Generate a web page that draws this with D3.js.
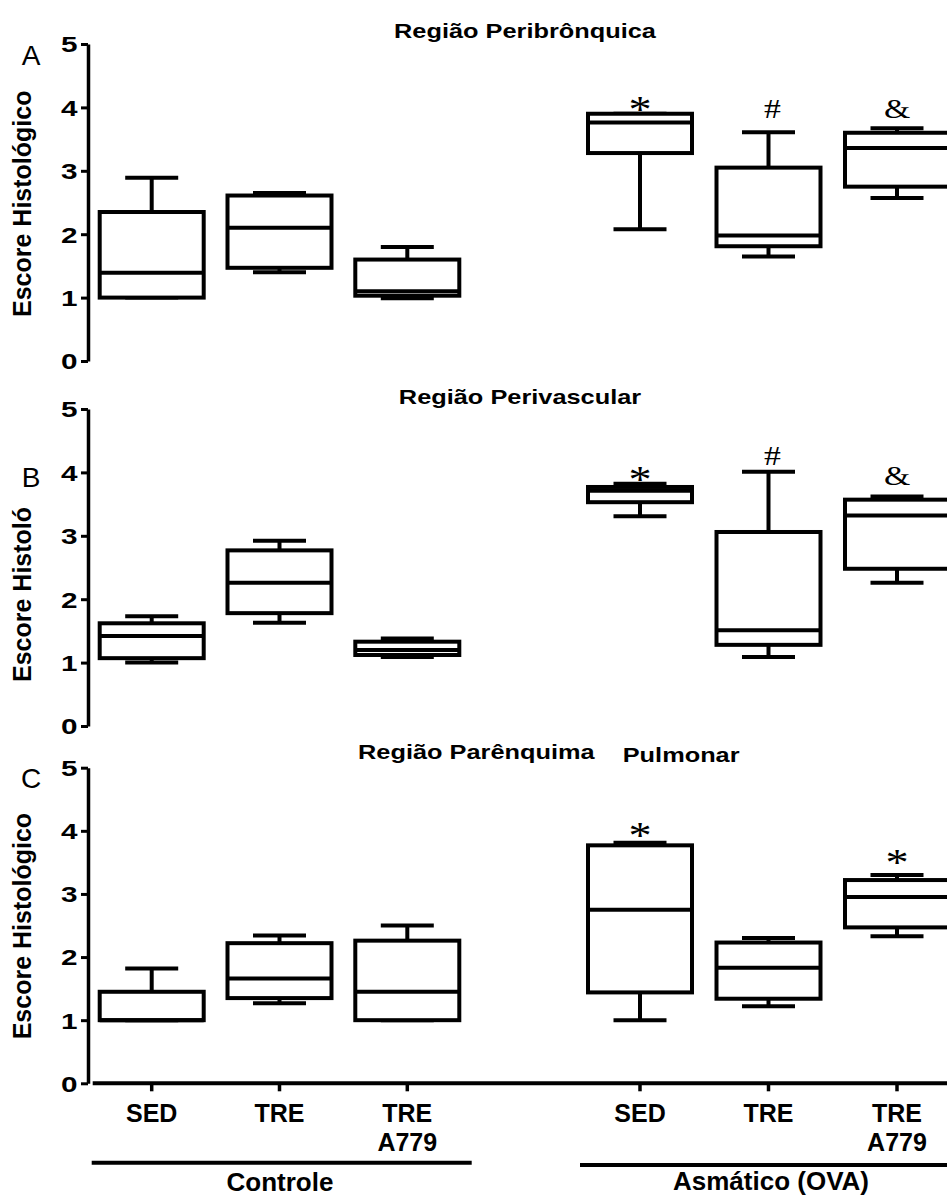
<!DOCTYPE html>
<html>
<head>
<meta charset="utf-8">
<script src="https://cdn.jsdelivr.net/npm/d3@7"></script>
<style>
  html, body { margin: 0; padding: 0; background: #fff; }
  svg { display: block; }
</style>
</head>
<body>
<svg id="chart" width="947" height="1196"></svg>
<script>
// ---------------- data ----------------
const groups = ["Controle", "Asmático (OVA)"];
const categories = ["SED", "TRE", "TRE A779"];
const yTicks = [0, 1, 2, 3, 4, 5];
const panelLetters = ["A", "B", "C"];
const panelTitles = ["Região Peribrônquica", "Região Perivascular", "Região Parênquima"];
const titleExtra = ["", "", "Pulmonar"];
const yLabels = ["Escore Histológico", "Escore Histoló", "Escore Histológico"];

// each row: [min, q1, median, q3, max]; order: Controle SED, TRE, TRE A779, OVA SED, TRE, TRE A779
const peribronquica = [
  [1.00, 1.00, 1.39, 2.35, 2.89],
  [1.40, 1.47, 2.10, 2.61, 2.65],
  [0.99, 1.03, 1.10, 1.60, 1.80],
  [2.08, 3.28, 3.76, 3.90, 3.90],
  [1.65, 1.81, 1.98, 3.05, 3.61],
  [2.57, 2.75, 3.36, 3.60, 3.67]
];
const perivascular = [
  [1.00, 1.07, 1.42, 1.62, 1.73],
  [1.63, 1.78, 2.26, 2.77, 2.92],
  [1.09, 1.12, 1.20, 1.33, 1.38],
  [3.31, 3.53, 3.71, 3.77, 3.82],
  [1.09, 1.28, 1.51, 3.06, 4.01],
  [2.26, 2.48, 3.32, 3.57, 3.62]
];
const parenquima = [
  [1.00, 1.00, 1.00, 1.45, 1.82],
  [1.27, 1.35, 1.66, 2.22, 2.34],
  [1.00, 1.00, 1.45, 2.26, 2.50],
  [1.00, 1.44, 2.75, 3.77, 3.81],
  [1.22, 1.34, 1.83, 2.23, 2.30],
  [2.33, 2.47, 2.95, 3.22, 3.30]
];

// significance marks and the score level where each mark sits
const periMarks = ["", "", "", "*", "#", "&"];
const periMarkLevels = [null, null, null, 4.05, 3.97, 3.98];
const periVMarks = ["", "", "", "*", "#", "&"];
const periVMarkLevels = [null, null, null, 3.97, 4.26, 3.94];
const parMarks = ["", "", "", "*", "", "*"];
const parMarkLevels = [null, null, null, 4.00, null, 3.57];

// ---------------- layout ----------------
const svg = d3.select("#chart");
const SANS = "'Liberation Sans', Arial, Helvetica, sans-serif";
const SERIF = "'Liberation Serif', 'Times New Roman', serif";
const W = 947;
const axisX = 88;
const boxW = 104;
const capW = 53;
const SW = 4;

const panels = [
  { data: peribronquica, marks: periMarks, levels: periMarkLevels, y0: 361, y5: 44, titleY: 37.5, titleX: 525, letterY: 65, xAxis: false },
  { data: perivascular, marks: periVMarks, levels: periVMarkLevels, y0: 726, y5: 409, titleY: 404, titleX: 520, letterY: 487, xAxis: false },
  { data: parenquima, marks: parMarks, levels: parMarkLevels, y0: 1083.3, y5: 767.7, titleY: 759, titleX: 358, letterY: 788, xAxis: true }
];

const xCtrl = d3.scalePoint().domain(categories).range([151.7, 407.3]);
const xOva = d3.scalePoint().domain(categories).range([640, 897]);
const xPos = i => (i < 3 ? xCtrl(categories[i]) : xOva(categories[i - 3]));

panels.forEach((p, pi) => {
  const y = d3.scaleLinear().domain([0, 5]).range([p.y0, p.y5]);
  const g = svg.append("g");

  // y axis
  const ax = g.append("g")
    .attr("transform", `translate(${axisX},0)`)
    .call(d3.axisLeft(y).tickValues(yTicks).tickFormat(d3.format("d")).tickSize(7).tickSizeOuter(0));
  ax.select(".domain").attr("stroke", "#000").attr("stroke-width", 3.5);
  ax.selectAll(".tick line").attr("stroke", "#000").attr("stroke-width", 3);
  ax.selectAll(".tick text")
    .attr("x", -10.5 / 1.35)
    .attr("dy", "0.36em")
    .attr("transform", "scale(1.35,1)")
    .attr("fill", "#000")
    .style("font-family", SANS)
    .style("font-weight", "bold")
    .style("font-size", "22px");

  // y label
  g.append("text")
    .attr("transform", `translate(30.5,${p.y0 - 44}) rotate(-90)`)
    .attr("text-anchor", "start")
    .style("font-family", SANS)
    .style("font-weight", "bold")
    .style("font-size", "25px")
    .text(yLabels[pi]);

  // panel letter
  g.append("text")
    .attr("x", 31)
    .attr("y", p.letterY)
    .attr("text-anchor", "middle")
    .style("font-family", SANS)
    .style("font-size", "28px")
    .text(panelLetters[pi]);

  // title
  if (titleExtra[pi]) {
    g.append("text")
      .attr("transform", `translate(${p.titleX},${p.titleY}) scale(1.3,1)`)
      .attr("text-anchor", "start")
      .style("font-family", SANS).style("font-weight", "bold").style("font-size", "19.5px")
      .text(panelTitles[pi]);
    g.append("text")
      .attr("transform", `translate(622.7,${p.titleY + 3}) scale(1.3,1)`)
      .attr("text-anchor", "start")
      .style("font-family", SANS).style("font-weight", "bold").style("font-size", "19.5px")
      .text(titleExtra[pi]);
  } else {
    g.append("text")
      .attr("transform", `translate(${p.titleX},${p.titleY}) scale(1.3,1)`)
      .attr("text-anchor", "middle")
      .style("font-family", SANS).style("font-weight", "bold").style("font-size", "19.5px")
      .text(panelTitles[pi]);
  }

  // boxes
  p.data.forEach((d, i) => {
    const [mn, q1, md, q3, mx] = d;
    const cx = xPos(i);
    const bg = g.append("g").attr("stroke", "#000").attr("stroke-width", SW).attr("fill", "none");
    // whiskers
    bg.append("line").attr("x1", cx).attr("x2", cx).attr("y1", y(mx)).attr("y2", y(q3));
    bg.append("line").attr("x1", cx).attr("x2", cx).attr("y1", y(q1)).attr("y2", y(mn));
    bg.append("line").attr("x1", cx - capW / 2).attr("x2", cx + capW / 2).attr("y1", y(mx)).attr("y2", y(mx));
    bg.append("line").attr("x1", cx - capW / 2).attr("x2", cx + capW / 2).attr("y1", y(mn)).attr("y2", y(mn));
    // box
    bg.append("rect")
      .attr("x", cx - boxW / 2).attr("y", y(q3))
      .attr("width", boxW).attr("height", Math.max(0, y(q1) - y(q3)))
      .attr("fill", "#fff");
    // median
    bg.append("line").attr("x1", cx - boxW / 2).attr("x2", cx + boxW / 2).attr("y1", y(md)).attr("y2", y(md));

    // significance mark
    const m = p.marks[i];
    if (m) {
      const isStar = m === "*";
      const fs = isStar ? 37 : 27;
      const off = isStar ? 0.47 : 0.34;
      g.append("text")
        .attr("transform", `translate(${cx + (m === "#" ? 4 : 0)},${y(p.levels[i]) + off * fs}) scale(1.25,1)`)
        .attr("text-anchor", "middle")
        .style("font-family", SERIF)
        .style("font-size", fs + "px")
        .text(m);
    }
  });

  // x axis (bottom panel only)
  if (p.xAxis) {
    const xa = g.append("g").attr("stroke", "#000");
    xa.append("line").attr("x1", 92.7).attr("x2", W).attr("y1", p.y0).attr("y2", p.y0).attr("stroke-width", 4);
    d3.range(6).forEach(i => {
      xa.append("line").attr("x1", xPos(i)).attr("x2", xPos(i))
        .attr("y1", p.y0).attr("y2", p.y0 + 8).attr("stroke-width", 3.5);
    });
    // category labels
    d3.range(6).forEach(i => {
      const words = categories[i % 3].split(" ");
      const t = svg.append("text")
        .attr("text-anchor", "middle")
        .style("font-family", SANS).style("font-weight", "bold").style("font-size", "25px");
      words.forEach((w, k) => {
        t.append("tspan").attr("x", xPos(i)).attr("y", 1121.5 + k * 29.5).text(w);
      });
    });
  }
});

// group brackets
const brackets = [
  { x1: 91.7, x2: 471.7, y: 1162.7, tx: 280, ty: 1191 },
  { x1: 580, x2: W, y: 1165, tx: 771, ty: 1190 }
];
brackets.forEach((b, i) => {
  svg.append("line").attr("x1", b.x1).attr("x2", b.x2).attr("y1", b.y).attr("y2", b.y)
    .attr("stroke", "#000").attr("stroke-width", 4);
  svg.append("text")
    .attr("x", b.tx).attr("y", b.ty)
    .attr("text-anchor", "middle")
    .style("font-family", SANS).style("font-weight", "bold").style("font-size", "26px")
    .text(groups[i]);
});
</script>
</body>
</html>
